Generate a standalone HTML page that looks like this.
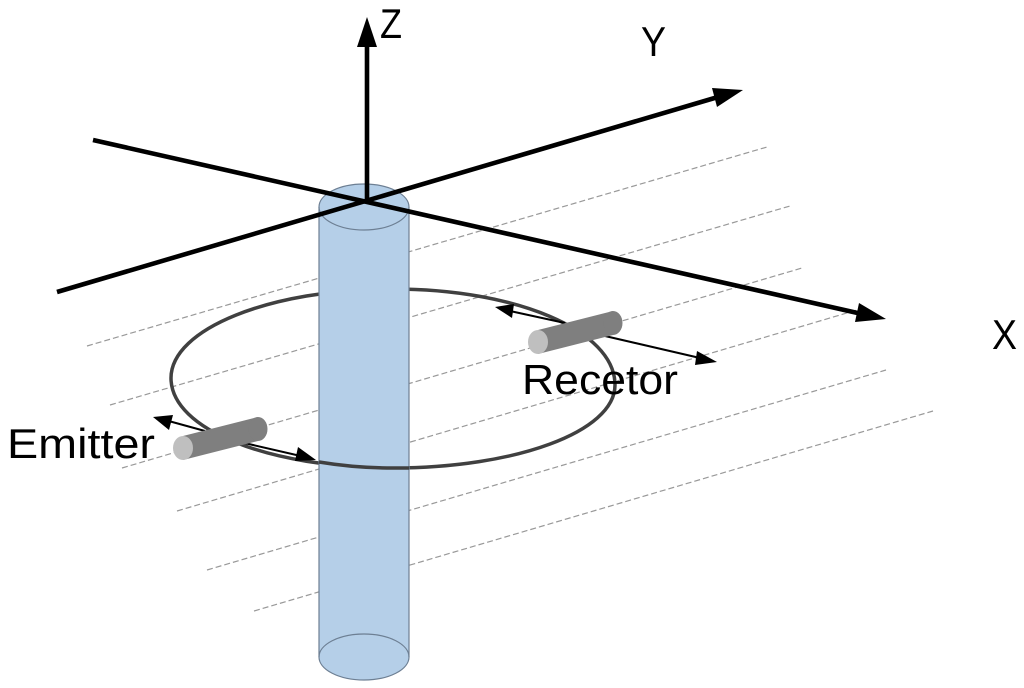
<!DOCTYPE html>
<html><head><meta charset="utf-8"><style>html,body{margin:0;padding:0;background:#fff}svg{display:block}text{font-family:"Liberation Sans",sans-serif;font-size:42px;fill:#000}</style></head>
<body>
<svg width="1024" height="688" viewBox="0 0 1024 688" xmlns="http://www.w3.org/2000/svg">
<g stroke="#999" stroke-width="1.2" stroke-dasharray="6 3" fill="none">
<line x1="87" y1="346" x2="767" y2="147"/>
<line x1="110" y1="405" x2="790" y2="206"/>
<line x1="122" y1="468" x2="802" y2="268"/>
<line x1="177" y1="511" x2="857" y2="310"/>
<line x1="207" y1="570" x2="886" y2="370"/>
<line x1="254" y1="611" x2="933" y2="411"/>
</g>
<path d="M393 289 C270 289 171 329 171 378 C171 430 270 468 393 468 C515 468 615 432 615 385 C615 330 515 289 393 289 Z" fill="none" stroke="#404040" stroke-width="3.5"/>
<path d="M319 207 V657 A45 23 0 0 0 409 657 V207 A45 23 0 0 0 319 207 Z" fill="#b5cfe8" stroke="#6d7f93" stroke-width="1.2"/>
<path d="M319 207 A45 23 0 0 0 409 207" fill="none" stroke="#6d7f93" stroke-width="1.2"/>
<path d="M319 657 A45 23 0 0 1 409 657" fill="none" stroke="#6d7f93" stroke-width="1.2"/>
<path d="M319 462 C343 466 368 468 393 468 C398 468 404 468 409 468" fill="none" stroke="#404040" stroke-width="3.5"/>
<g stroke="#000" stroke-width="4.6" fill="none">
<line x1="367" y1="203" x2="367" y2="44"/>
<line x1="57" y1="292" x2="718" y2="97"/>
<line x1="93" y1="140" x2="862" y2="314"/>
</g>
<polygon points="367,17 357,47 377,47"/>
<polygon points="743,90 712,88 717,107"/>
<polygon points="886,319 859,303 855,322"/>
<g stroke="#000" stroke-width="2" fill="none">
<line x1="205" y1="431" x2="165" y2="420"/>
<line x1="240" y1="442" x2="305" y2="457"/>
<line x1="565" y1="323" x2="510" y2="311"/>
<line x1="605" y1="336" x2="700" y2="358"/>
</g>
<polygon points="153,417 173,415 169,430"/>
<polygon points="316,460 298,447 295,461"/>
<polygon points="495,307 514,304 512,318"/>
<polygon points="717,362 697,351 695,365"/>
<polygon points="183,436 258,417 258,441 183,460" fill="#7f7f7f"/>
<ellipse cx="258" cy="429" rx="9.5" ry="12" fill="#7f7f7f"/>
<ellipse cx="183" cy="448" rx="10" ry="12" fill="#bfbfbf"/>
<polygon points="538,330 613,311 613,335 538,354" fill="#7f7f7f"/>
<ellipse cx="613" cy="323" rx="9.5" ry="12" fill="#7f7f7f"/>
<ellipse cx="538" cy="342" rx="10" ry="12" fill="#bfbfbf"/>
<text x="7" y="458" textLength="148" lengthAdjust="spacingAndGlyphs">Emitter</text>
<text x="522" y="394" textLength="156" lengthAdjust="spacingAndGlyphs">Recetor</text>
<text x="380" y="38" textLength="22" lengthAdjust="spacingAndGlyphs">Z</text>
<text x="641" y="56" textLength="25" lengthAdjust="spacingAndGlyphs">Y</text>
<text x="992" y="349" textLength="25" lengthAdjust="spacingAndGlyphs">X</text>
</svg>
</body></html>
